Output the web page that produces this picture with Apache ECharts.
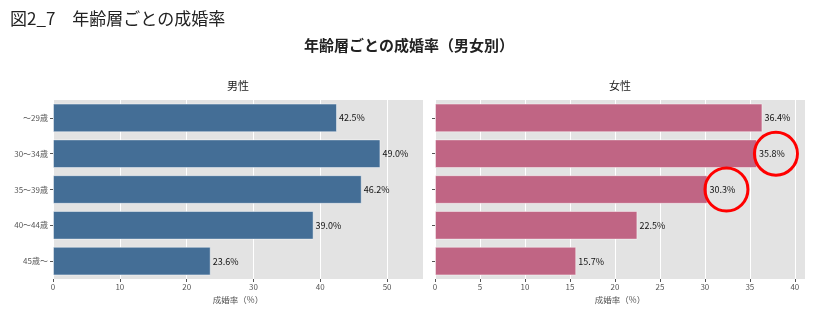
<!DOCTYPE html>
<html><head><meta charset="utf-8">
<script src="https://cdn.jsdelivr.net/npm/echarts@6/dist/echarts.min.js"></script>
<style>html,body{margin:0;padding:0;background:#fff}#c{width:818px;height:326px}</style>
</head><body><div id="c"></div>
<script>
const categories = ['〜29歳', '30〜34歳', '35〜39歳', '40〜44歳', '45歳〜'];
const maleRates = [42.5, 49.0, 46.2, 39.0, 23.6];
const femaleRates = [36.4, 35.8, 30.3, 22.5, 15.7];
const maleTickStep = 10;
const femaleTickStep = 5;
// highlighted annotations (data coords in female panel)
const highlights = [[37.9, '30〜34歳'], [32.4, '35〜39歳']];

const FONT = '"Noto Sans CJK JP", "Noto Sans", sans-serif';
const chart = echarts.init(document.getElementById('c'), null, {renderer: 'canvas'});

function xAxisCfg(gi, max, step) {
  return {
    type: 'value', gridIndex: gi, min: 0, max: max, interval: step,
    name: '成婚率（%）', nameLocation: 'middle', nameGap: 16,
    nameTextStyle: {fontFamily: FONT, fontSize: 8.5, color: '#555'},
    axisLine: {show: false},
    axisTick: {show: true, length: 3, lineStyle: {color: '#555'}},
    axisLabel: {fontFamily: FONT, fontSize: 8, color: '#555', margin: 4,
      showMaxLabel: false,
      formatter: v => (Math.abs(v / step - Math.round(v / step)) < 1e-6 ? String(v) : '')},
    splitLine: {show: true, lineStyle: {color: '#ffffff', width: 1}}
  };
}
function yAxisCfg(gi, showLabels) {
  return {
    type: 'category', gridIndex: gi, data: categories, inverse: true,
    axisLine: {show: false},
    axisTick: {show: true, length: 3, alignWithLabel: true, lineStyle: {color: '#555'}},
    axisLabel: {show: showLabels, fontFamily: FONT, fontSize: 8, color: '#555', margin: 5},
    splitLine: {show: false}
  };
}
function barSeries(idx, data, color) {
  return {
    type: 'bar', xAxisIndex: idx, yAxisIndex: idx, data: data,
    barCategoryGap: '20%',
    itemStyle: {color: color, borderColor: 'rgba(255,255,255,0.45)', borderWidth: 1},
    label: {show: true, position: 'right', distance: 2, formatter: p => p.value.toFixed(1) + '%',
      fontFamily: FONT, fontSize: 9, color: '#111'},
    silent: true, animation: false
  };
}

const maleS = barSeries(0, maleRates, '#446e96');
const femaleS = barSeries(1, femaleRates, '#c06584');
femaleS.markPoint = {
  symbol: 'circle', symbolSize: 43, silent: true, animation: false,
  itemStyle: {color: 'rgba(0,0,0,0)', borderColor: '#ff0000', borderWidth: 3},
  label: {show: false},
  data: highlights.map(h => ({coord: h}))
};

chart.setOption({
  backgroundColor: '#ffffff',
  animation: false,
  title: [
    {text: '図2_7　年齢層ごとの成婚率', left: 10, top: 10, padding: 0,
      textStyle: {fontFamily: FONT, fontSize: 17, fontWeight: 'normal', color: '#222'}},
    {text: '年齢層ごとの成婚率（男女別）', left: 409, top: 38, padding: 0, textAlign: 'center',
      textStyle: {fontFamily: FONT, fontSize: 15, fontWeight: 'bold', color: '#222'}},
    {text: '男性', left: 238, top: 80, padding: 0, textAlign: 'center',
      textStyle: {fontFamily: FONT, fontSize: 11, fontWeight: 'normal', color: '#222'}},
    {text: '女性', left: 620, top: 80, padding: 0, textAlign: 'center',
      textStyle: {fontFamily: FONT, fontSize: 11, fontWeight: 'normal', color: '#222'}}
  ],
  grid: [
    {left: 53, right: 395, top: 100, bottom: 47, show: true, backgroundColor: '#e3e3e3', borderWidth: 0},
    {left: 435, right: 13, top: 100, bottom: 47, show: true, backgroundColor: '#e3e3e3', borderWidth: 0}
  ],
  xAxis: [
    xAxisCfg(0, Math.max(...maleRates) * 1.13, maleTickStep),
    xAxisCfg(1, Math.max(...femaleRates) * 1.13, femaleTickStep)
  ],
  yAxis: [yAxisCfg(0, true), yAxisCfg(1, false)],
  series: [maleS, femaleS]
});
</script>
</body></html>
